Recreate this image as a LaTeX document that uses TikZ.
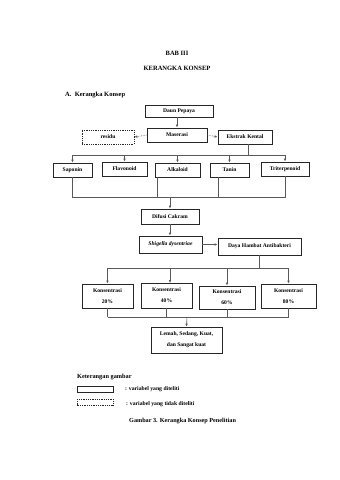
\documentclass[tikz,border=0pt]{standalone}
\usepackage{fontspec}
\setmainfont{Liberation Serif}
\usetikzlibrary{arrows.meta,calc}
\begin{document}
\begin{tikzpicture}[x=1pt,y=-1pt,
  bx/.style={draw=black!85, line width=0.8pt, inner sep=0pt, align=center,
     font=\fontsize{5.6}{11}\selectfont\bfseries},
  dbx/.style={bx, dash pattern=on 1pt off 0.8pt},
  ln/.style={draw=black!65, line width=0.6pt},
  ar/.style={ln, -{Latex[length=3pt,width=2.6pt]}},
  txt/.style={inner sep=0pt, font=\fontsize{6.5}{7}\selectfont\bfseries}]
\useasboundingbox[fill=white] (0,0) rectangle (340,480);
% titles
\node[txt] (t1) at (177,53) {BAB III};
\node[txt] (t2) at (177,68) {KERANGKA KONSEP};
\node[txt, anchor=west] (t3) at (65,95) {A.\ \ Kerangka Konsep};
% boxes
\node[bx, minimum width=68, minimum height=12] (daun) at (179,111) {Daun Pepaya};
\node[bx, minimum width=60, minimum height=14] (mas) at (177,135) {Maserasi};
\node[dbx, minimum width=52, minimum height=14] (res) at (108,137) {residu};
\node[bx, minimum width=54, minimum height=14] (eks) at (245,137) {Ekstrak Kental};
\node[bx, minimum width=39, minimum height=14] (sap) at (72.5,170) {Saponin};
\node[bx, minimum width=45, minimum height=14] (fla) at (124.5,169) {Flavonoid};
\node[bx, minimum width=45, minimum height=14] (alk) at (177.5,170) {Alkaloid};
\node[bx, minimum width=39, minimum height=14] (tan) at (229.5,170) {Tanin};
\node[bx, minimum width=48, minimum height=14] (tri) at (285,169) {Triterpenoid};
\node[bx, minimum width=58, minimum height=15] (dif) at (170,216.5) {Difusi Cakram};
\node[bx, minimum width=63, minimum height=17] (shi) at (170.5,244.5) {\itshape Shigella dysentriae};
\node[bx, minimum width=83, minimum height=17] (daya) at (259.5,246.5) {Daya Hambat Antibakteri};
\node[bx, minimum width=51, minimum height=24] (k20) at (107.5,296) {Konsentrasi\\20\%};
\node[bx, minimum width=51, minimum height=25] (k40) at (166.5,295.5) {Konsentrasi\\40\%};
\node[bx, minimum width=56, minimum height=23] (k60) at (227,297.5) {Konsentrasi\\60\%};
\node[bx, minimum width=55, minimum height=24] (k80) at (288.5,296) {Konsentrasi\\80\%};
\node[bx, minimum width=71, minimum height=26] (has) at (186.5,340) {Lemah, Sedang, Kuat,\\dan Sangat kuat};
% connectors top
\draw[ar] (daun.south -| mas) -- (mas.north);
\draw[ar, densely dotted] (mas.west) -- (res.east);
\draw[ar, densely dotted] (mas.east) -- (eks.west);
\coordinate (b1) at (248,155);
\draw[ln] (eks.south -| b1) -- (b1);
\draw[ln] (b1 -| sap) -- (b1 -| tri);
\foreach \n in {sap,fla,alk,tan,tri} \draw[ar] (b1 -| \n) -- (\n.north);
% bottom bus of compounds
\coordinate (b2) at (170,197.5);
\coordinate (a1) at (157,0);
\coordinate (a2) at (218,0);
\draw[ln] (sap.south) -- (b2 -| sap);
\draw[ln] (alk.south -| a1) -- (b2 -| a1);
\draw[ln] (tan.south -| a2) -- (b2 -| a2);
\draw[ln] (tri.south) -- (b2 -| tri);
\draw[ln] (b2 -| sap) -- (b2 -| tri);
\draw[ar] (b2) -- (dif.north);
\draw[ar] (dif.south) -- (dif.south |- shi.north);
\draw[ar] (shi.east) -- (shi.east -| daya.west);
% concentration bus
\coordinate (b3) at (259,268);
\draw[ln] (daya.south -| b3) -- (b3);
\draw[ln] (b3 -| k20) -- (b3 -| k80);
\draw[ar] (b3 -| k20) -- (k20.north);
\draw[ar] (170,268) -- (170,283);
\draw[ar] (b3 -| k60) -- (k60.north);
\draw[ar] (b3 -| k80) -- (k80.north);
% result bus
\coordinate (b4) at (187,317);
\foreach \n in {k20,k40,k60,k80} \draw[ln] (\n.south) -- (b4 -| \n);
\draw[ln] (b4 -| k20) -- (b4 -| k80);
\draw[ar] (b4) -- (has.north);
% legend
\node[txt, anchor=west, font=\fontsize{6.3}{7}\selectfont\bfseries] (leg) at (77,377) {Keterangan gambar};
\draw[bx] (77,386) rectangle (113,392);
\node[txt, anchor=west, font=\fontsize{5.7}{6}\selectfont\bfseries] (l1) at (125,389) {: variabel yang diteliti};
\draw[dbx] (77,399) rectangle (113,405);
\node[txt, anchor=west, font=\fontsize{5.7}{6}\selectfont\bfseries] (l2) at (126,404) {: variabel yang tidak diteliti};
\node[txt, anchor=west, font=\fontsize{6.2}{7}\selectfont\bfseries] (cap) at (129,421) {Gambar 3. Kerangka Konsep Penelitian};
\end{tikzpicture}
\end{document}
